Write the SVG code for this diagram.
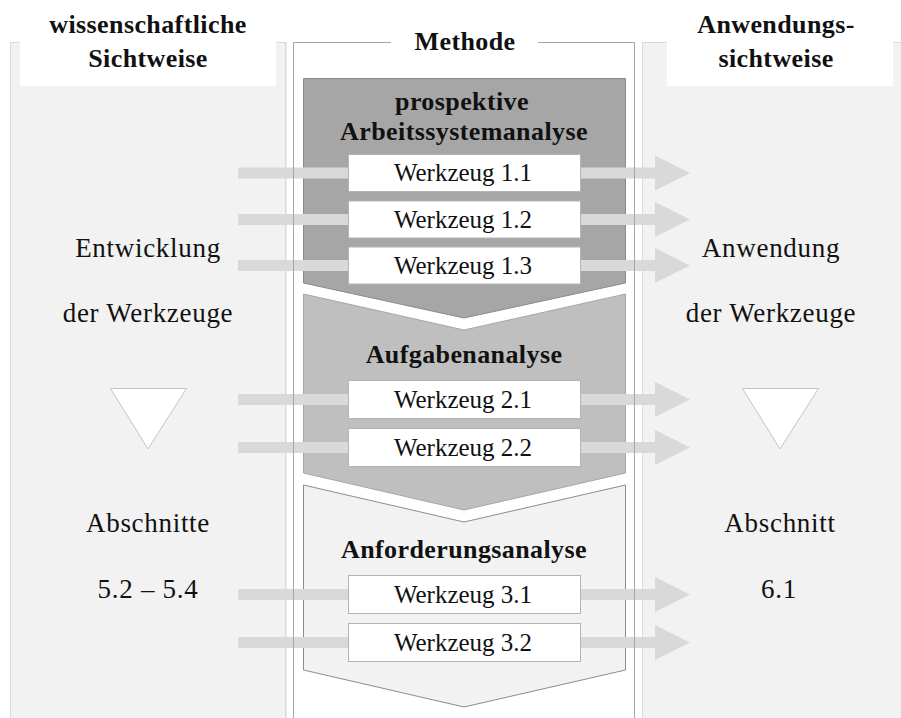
<svg xmlns="http://www.w3.org/2000/svg" width="901" height="718" viewBox="0 0 901 718">
<style>
.panel{fill:#f2f2f2;stroke:#d9d9d9;stroke-width:1}
.label{fill:#ffffff}
.h{font-family:"Liberation Serif","Times New Roman",serif;font-size:26px;font-weight:bold;fill:#111;text-anchor:middle;letter-spacing:0.4px}
.t{font-family:"Liberation Serif","Times New Roman",serif;font-size:27px;fill:#111;text-anchor:middle;letter-spacing:0.7px}
.w{font-family:"Liberation Serif","Times New Roman",serif;font-size:25px;fill:#111;text-anchor:middle}
.box{fill:#ffffff;stroke:#b4b4b4;stroke-width:1}
.bar{fill:#d9d9d9}
.tri{fill:#ffffff;stroke:#c4c4c4;stroke-width:1}
.frame{fill:none;stroke:#a6a6a6;stroke-width:1}
</style>
<rect width="901" height="718" fill="#ffffff"/>

<g id="panel-left">
<rect class="panel" x="10.5" y="42.5" width="275" height="690"/>
<rect class="label" x="20" y="20" width="256" height="66"/>
<text class="h" x="148" y="33">wissenschaftliche</text>
<text class="h" x="148" y="67">Sichtweise</text>
<text class="t" x="148" y="257">Entwicklung</text>
<text class="t" x="148" y="322">der Werkzeuge</text>
<polygon class="tri" points="110.5,388.5 186.5,388.5 148,449"/>
<text class="t" x="148" y="532">Abschnitte</text>
<text class="t" x="148" y="598">5.2 – 5.4</text>
</g>

<g id="panel-right">
<rect class="panel" x="642.5" y="42.5" width="270" height="690"/>
<rect class="label" x="667" y="20" width="226" height="66"/>
<text class="h" x="776" y="33">Anwendungs-</text>
<text class="h" x="776" y="67">sichtweise</text>
<text class="t" x="771" y="257">Anwendung</text>
<text class="t" x="771" y="322">der Werkzeuge</text>
<polygon class="tri" points="742.5,388.5 818.5,388.5 780,449"/>
<text class="t" x="780" y="532">Abschnitt</text>
<text class="t" x="779" y="598">6.1</text>
</g>

<g id="methode">
<rect x="293.5" y="42.5" width="341" height="690" fill="#ffffff"/>
<text class="h" x="465" y="50">Methode</text>
</g>

<g id="phase1">
<polygon points="303.5,78.5 625.5,78.5 625.5,283 464,318 303.5,283" fill="#a6a6a6" stroke="#8a8a8a" stroke-width="1"/>
<text class="h" x="462" y="110">prospektive</text>
<text class="h" x="464" y="140">Arbeitssystemanalyse</text>
</g>

<g id="phase2">
<polygon points="303.5,294 464,330 625.5,294 625.5,473 464,510 303.5,473" fill="#bfbfbf" stroke="#a6a6a6" stroke-width="1"/>
<text class="h" x="464" y="363">Aufgabenanalyse</text>
</g>

<g id="phase3">
<polygon points="303.5,485 464,522 625.5,485 625.5,670 464,707 303.5,670" fill="#f2f2f2" stroke="#8c8c8c" stroke-width="1"/>
<text class="h" x="464" y="558">Anforderungsanalyse</text>
</g>

<g id="connectors">
<rect class="bar" x="238" y="167.5" width="110" height="11"/>
<rect class="bar" x="238" y="214" width="110" height="11"/>
<rect class="bar" x="238" y="260" width="110" height="11"/>
<rect class="bar" x="238" y="394" width="110" height="11"/>
<rect class="bar" x="238" y="442" width="110" height="11"/>
<rect class="bar" x="238" y="589" width="110" height="11"/>
<rect class="bar" x="238" y="637" width="110" height="11"/>
<polygon class="bar" points="581,167.5 655,167.5 655,155.5 690,173 655,190.5 655,178.5 581,178.5"/>
<polygon class="bar" points="581,214 655,214 655,202 690,219.5 655,237 655,225 581,225"/>
<polygon class="bar" points="581,260 655,260 655,248 690,265.5 655,283 655,271 581,271"/>
<polygon class="bar" points="581,394 655,394 655,382 690,399.5 655,417 655,405 581,405"/>
<polygon class="bar" points="581,442 655,442 655,430 690,447.5 655,465 655,453 581,453"/>
<polygon class="bar" points="581,589 655,589 655,577 690,594.5 655,612 655,600 581,600"/>
<polygon class="bar" points="581,637 655,637 655,625 690,642.5 655,660 655,648 581,648"/>
</g>

<path class="frame" d="M391,42.5 H293.5 V718 M538,42.5 H634.5 V718"/>
<line x1="286" y1="42" x2="286" y2="718" stroke="#d9d9d9"/>
<line x1="642.5" y1="86" x2="642.5" y2="718" stroke="#d9d9d9"/>

<g id="w11"><rect class="box" x="348.5" y="154.5" width="232" height="37"/><text class="w" x="463" y="181">Werkzeug 1.1</text></g>
<g id="w12"><rect class="box" x="348.5" y="201" width="232" height="37"/><text class="w" x="463" y="227.5">Werkzeug 1.2</text></g>
<g id="w13"><rect class="box" x="348.5" y="247" width="232" height="37"/><text class="w" x="463" y="274">Werkzeug 1.3</text></g>
<g id="w21"><rect class="box" x="348.5" y="380.5" width="232" height="38"/><text class="w" x="463" y="408">Werkzeug 2.1</text></g>
<g id="w22"><rect class="box" x="348.5" y="428.5" width="232" height="38"/><text class="w" x="463" y="456">Werkzeug 2.2</text></g>
<g id="w31"><rect class="box" x="348.5" y="575.5" width="232" height="38"/><text class="w" x="463" y="603">Werkzeug 3.1</text></g>
<g id="w32"><rect class="box" x="348.5" y="623.5" width="232" height="38"/><text class="w" x="463" y="651">Werkzeug 3.2</text></g>
</svg>
